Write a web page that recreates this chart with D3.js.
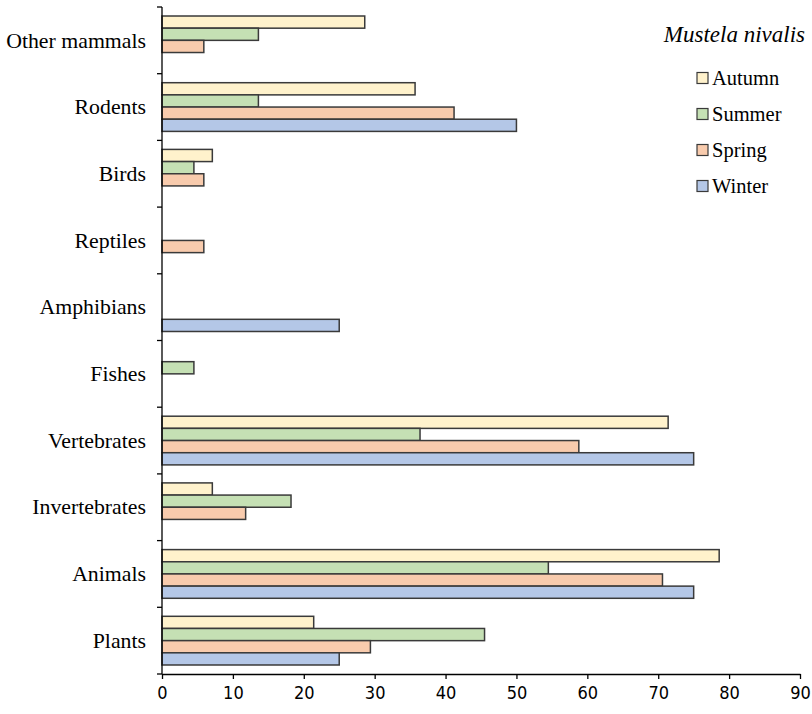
<!DOCTYPE html>
<html>
<head>
<meta charset="utf-8">
<script src="https://cdn.jsdelivr.net/npm/d3@7"></script>
<style>
  html, body { margin: 0; padding: 0; background: #fff; }
  svg { display: block; }
  .serif { font-family: "Liberation Serif", Tinos, "Times New Roman", Times, "DejaVu Serif", serif; }
</style>
</head>
<body>
<svg id="chart" width="812" height="714"></svg>
<script>
// Diet composition of the least weasel by season (% occurrence)
const categories = ["Plants", "Animals", "Invertebrates", "Vertebrates", "Fishes",
                    "Amphibians", "Reptiles", "Birds", "Rodents", "Other mammals"];
const seasons = ["Autumn", "Summer", "Spring", "Winter"];
const winter = [25, 75, 0, 75, 0, 25, 0, 0, 50, 0];
const spring = [29.4, 70.6, 11.8, 58.8, 0, 0, 5.9, 5.9, 41.2, 5.9];
const summer = [45.5, 54.5, 18.2, 36.4, 4.5, 0, 0, 4.5, 13.6, 13.6];
const autumn = [21.4, 78.6, 7.1, 71.4, 0, 0, 0, 7.1, 35.7, 28.6];
const xTicks = [0, 10, 20, 30, 40, 50, 60, 70, 80, 90];

const seriesValues = { Autumn: autumn, Summer: summer, Spring: spring, Winter: winter };
const fills = { Autumn: "#FFF2CC", Summer: "#C5E0B4", Spring: "#F8CBAD", Winter: "#B4C7E7" };

const svg = d3.select("#chart");
const plotLeft = 162, plotRight = 800, plotTop = 7, plotBottom = 674;

const x = d3.scaleLinear().domain([0, 90]).range([plotLeft, plotRight]);
const y = d3.scaleBand().domain(categories).range([plotBottom, plotTop])
  .paddingInner(0.27).paddingOuter(0.135);
const ySub = d3.scaleBand().domain(seasons).range([0, y.bandwidth()]);

// Bars
const rows = [];
categories.forEach((c, i) => {
  seasons.forEach(s => {
    const v = seriesValues[s][i];
    if (v > 0) rows.push({ c, s, v });
  });
});

svg.append("g").selectAll("rect").data(rows).join("rect")
  .attr("x", x(0))
  .attr("y", d => y(d.c) + ySub(d.s))
  .attr("width", d => x(d.v) - x(0))
  .attr("height", ySub.bandwidth())
  .attr("fill", d => fills[d.s])
  .attr("stroke", "#3a3a3a")
  .attr("stroke-width", 1.5);

// Category axis: ticks sit on band boundaries
const step = y.step();
const gy = svg.append("g").attr("stroke", "#000");
gy.append("line").attr("x1", plotLeft).attr("x2", plotLeft).attr("y1", plotTop).attr("y2", plotBottom)
  .attr("stroke-width", 1.3);
d3.range(categories.length + 1).forEach(k => {
  const yy = plotBottom - k * step;
  gy.append("line").attr("x1", plotLeft - 5).attr("x2", plotLeft).attr("y1", yy).attr("y2", yy)
    .attr("stroke-width", 1.3);
});
svg.append("g").selectAll("text").data(categories).join("text")
  .attr("class", "serif")
  .attr("x", 146)
  .attr("y", d => y(d) + y.bandwidth() / 2)
  .attr("dy", "0.33em")
  .attr("text-anchor", "end")
  .attr("font-size", 21.8)
  .attr("fill", "#000")
  .text(d => d);

// Value axis
const gx = svg.append("g").attr("transform", `translate(0,${plotBottom})`)
  .call(d3.axisBottom(x).tickValues(xTicks).tickSize(5).tickSizeOuter(0).tickPadding(7));
gx.select(".domain").attr("stroke", "#000").attr("stroke-width", 1.3);
gx.selectAll(".tick line").attr("stroke", "#000").attr("stroke-width", 1.3);
gx.selectAll(".tick text")
  .attr("font-family", "'DejaVu Sans Condensed', 'DejaVu Sans', sans-serif")
  .attr("font-size", 18)
  .attr("fill", "#000");

// Legend
svg.append("text")
  .attr("class", "serif")
  .attr("x", 805).attr("y", 42)
  .attr("text-anchor", "end")
  .attr("font-style", "italic")
  .attr("font-size", 23)
  .text("Mustela nivalis");

const lg = svg.append("g").selectAll("g").data(seasons).join("g")
  .attr("transform", (d, i) => `translate(697,${78 + i * 36})`);
lg.append("rect")
  .attr("x", 0).attr("y", -5.5).attr("width", 11).attr("height", 11)
  .attr("fill", d => fills[d]).attr("stroke", "#3a3a3a").attr("stroke-width", 1.2);
lg.append("text")
  .attr("class", "serif")
  .attr("x", 15).attr("y", 0).attr("dy", "0.35em")
  .attr("font-size", 20.5)
  .text(d => d);
</script>
</body>
</html>
